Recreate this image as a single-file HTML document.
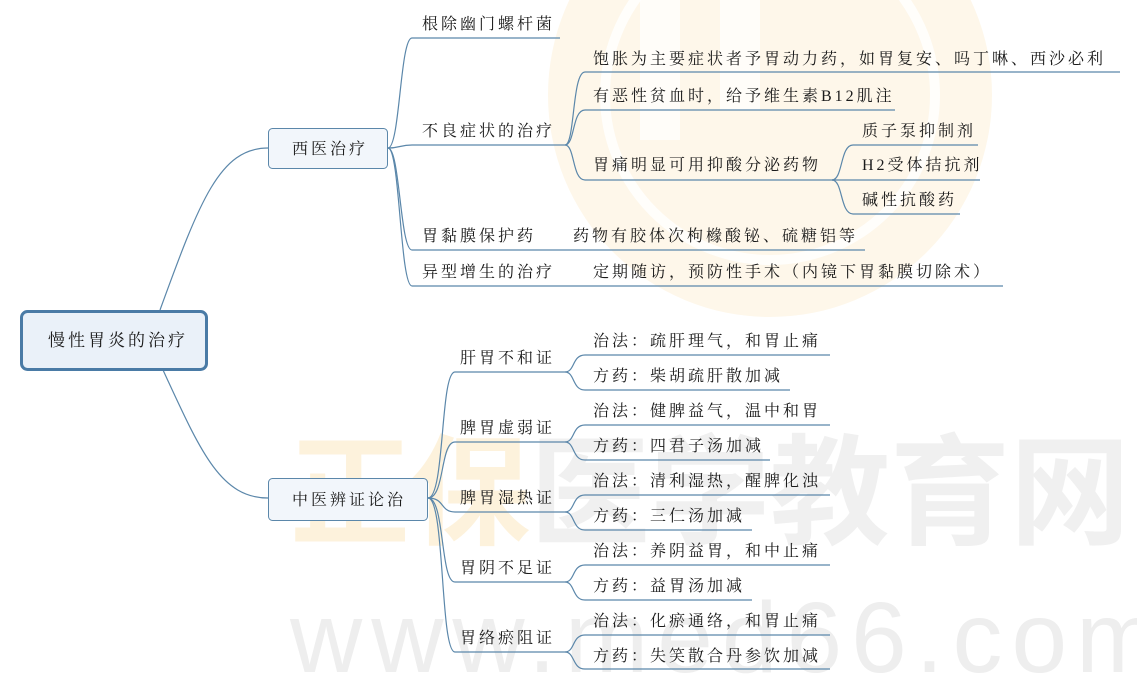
<!DOCTYPE html>
<html><head><meta charset="utf-8"><style>
html,body{margin:0;padding:0;background:#fff;}
svg{display:block;}
text{font-family:"Liberation Serif","Noto Serif CJK SC","Noto Sans CJK SC",serif;font-size:16px;fill:#1a1a1a;letter-spacing:3px;}
.wm{font-family:"Liberation Sans","Noto Sans CJK SC",sans-serif;letter-spacing:0;}
</style></head><body>
<svg width="1137" height="681" viewBox="0 0 1137 681" xmlns="http://www.w3.org/2000/svg">
<!-- watermark -->
<circle cx="770" cy="95" r="222" fill="#fef7ea"/>
<circle cx="770" cy="95" r="165" fill="none" stroke="#fff" stroke-width="10" opacity="0.8"/>
<rect x="640" y="0" width="40" height="140" fill="#fff" opacity="0.7"/>
<rect x="720" y="0" width="40" height="110" fill="#fff" opacity="0.7"/>
<text class="wm" x="290" y="535" style="font-size:120px;fill:#fdf2dc;font-weight:bold">正保</text>
<text class="wm" x="530" y="535" style="font-size:120px;fill:#f0f0f0;font-weight:bold">医学教育网</text>
<text class="wm" x="290" y="672" style="font-size:100px;fill:#eeeeee;letter-spacing:9px">www.med66.com</text>

<g fill="none" stroke="#5b87aa" stroke-width="1.2">
<path d="M160 310 C200 200,220 148,268 148"/>
<path d="M163 370 C200 450,220 498,268 498"/>
<path d="M388 148 C400 148,400 38,412 38 L560 38"/>
<path d="M388 148 C400 148,400 145,412 145 L565 145"/>
<path d="M388 148 C400 148,400 250,412 250 L865 250"/>
<path d="M388 148 C400 148,400 286,412 286 L1003 286"/>
<path d="M565 145 C575 145,572 72,585 72 L1120 72"/>
<path d="M565 145 C575 145,572 110,585 110 L895 110"/>
<path d="M565 145 C575 145,572 180,585 180 L835 180"/>
<path d="M832 180 C843 180,840 145,853 145 L978 145"/>
<path d="M832 180 L980 180"/>
<path d="M832 180 C843 180,840 214,853 214 L960 214"/>
<path d="M428 498 C445 498,440 372,455 372 L565 372"/>
<path d="M428 498 C445 498,440 442,455 442 L565 442"/>
<path d="M428 498 C445 498,440 512,455 512 L565 512"/>
<path d="M428 498 C445 498,440 582,455 582 L565 582"/>
<path d="M428 498 C445 498,440 652,455 652 L565 652"/>
<path d="M565 372 C575 372,572 355,585 355 L830 355"/><path d="M565 372 C575 372,572 390,585 390 L790 390"/>
<path d="M565 442 C575 442,572 425,585 425 L830 425"/><path d="M565 442 C575 442,572 460,585 460 L770 460"/>
<path d="M565 512 C575 512,572 495,585 495 L830 495"/><path d="M565 512 C575 512,572 530,585 530 L752 530"/>
<path d="M565 582 C575 582,572 565,585 565 L830 565"/><path d="M565 582 C575 582,572 600,585 600 L752 600"/>
<path d="M565 652 C575 652,572 635,585 635 L830 635"/><path d="M565 652 C575 652,572 669,585 669 L830 669"/>
</g>

<rect x="21.5" y="311.5" width="185" height="58" rx="6" fill="#eaf1f9" stroke="#4a7ba6" stroke-width="3"/>
<text x="48" y="346" style="font-size:17px">慢性胃炎的治疗</text>
<rect x="268.5" y="128.5" width="119" height="40" rx="4" fill="#f2f6fb" stroke="#5b87aa"/>
<text x="292" y="154">西医治疗</text>
<rect x="268.5" y="478.5" width="159" height="42" rx="4" fill="#f2f6fb" stroke="#5b87aa"/>
<text x="292" y="505">中医辨证论治</text>

<text x="422" y="29">根除幽门螺杆菌</text>
<text x="422" y="136">不良症状的治疗</text>
<text x="593" y="64">饱胀为主要症状者予胃动力药，如胃复安、吗丁啉、西沙必利</text>
<text x="593" y="101">有恶性贫血时，给予维生素B12肌注</text>
<text x="593" y="170">胃痛明显可用抑酸分泌药物</text>
<text x="862" y="136">质子泵抑制剂</text>
<text x="862" y="170">H2受体拮抗剂</text>
<text x="862" y="205">碱性抗酸药</text>
<text x="422" y="241">胃黏膜保护药</text>
<text x="573" y="241">药物有胶体次枸橼酸铋、硫糖铝等</text>
<text x="422" y="277">异型增生的治疗</text>
<text x="593" y="277">定期随访，预防性手术（内镜下胃黏膜切除术）</text>

<text x="460" y="363">肝胃不和证</text>
<text x="460" y="433">脾胃虚弱证</text>
<text x="460" y="503">脾胃湿热证</text>
<text x="460" y="573">胃阴不足证</text>
<text x="460" y="643">胃络瘀阻证</text>
<text x="593" y="346">治法：疏肝理气，和胃止痛</text>
<text x="593" y="381">方药：柴胡疏肝散加减</text>
<text x="593" y="416">治法：健脾益气，温中和胃</text>
<text x="593" y="451">方药：四君子汤加减</text>
<text x="593" y="486">治法：清利湿热，醒脾化浊</text>
<text x="593" y="521">方药：三仁汤加减</text>
<text x="593" y="556">治法：养阴益胃，和中止痛</text>
<text x="593" y="591">方药：益胃汤加减</text>
<text x="593" y="626">治法：化瘀通络，和胃止痛</text>
<text x="593" y="661">方药：失笑散合丹参饮加减</text>
</svg>
</body></html>
